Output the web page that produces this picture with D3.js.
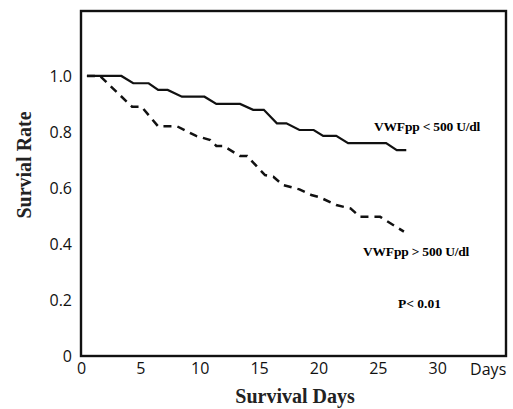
<!DOCTYPE html>
<html>
<head>
<meta charset="utf-8">
<script src="https://cdn.jsdelivr.net/npm/d3@7"></script>
<style>
  body { margin: 0; background: #fff; }
  svg { display: block; }
</style>
</head>
<body>
<div class="container"></div>
<script>
const width = 513
const height = 409

// survival curves (day, rate)
const lowDays = [0.5, 3.4, 4.4, 5.7, 6.5, 7.3, 8.5, 10.4, 11.4, 13.4, 14.5, 15.4, 16.5, 17.3, 18.4, 19.6, 20.4, 21.5, 22.5, 25.7, 26.6, 27.4]
const lowRate = [1.0, 1.0, 0.974, 0.974, 0.95, 0.95, 0.926, 0.926, 0.9, 0.9, 0.879, 0.879, 0.831, 0.831, 0.807, 0.807, 0.786, 0.786, 0.76, 0.76, 0.735, 0.735]

const highDays = [0.5, 1.6, 4.3, 5.1, 6.5, 8.1, 9.7, 10.9, 11.4, 12.0, 13.4, 14.0, 15.5, 16.2, 17.0, 18.4, 19.4, 20.1, 21.5, 22.7, 23.5, 25.2, 27.2]
const highRate = [1.0, 1.0, 0.89, 0.89, 0.82, 0.82, 0.786, 0.771, 0.75, 0.75, 0.714, 0.714, 0.646, 0.64, 0.611, 0.595, 0.575, 0.567, 0.539, 0.527, 0.497, 0.497, 0.444]

const xTicks = [0, 5, 10, 15, 20, 25, 30]
const yTicks = [0, 0.2, 0.4, 0.6, 0.8, 1.0]

const plotLeft = 81, plotRight = 506, plotTop = 11, plotBottom = 356

var svg = d3.select('.container')
    .append('svg')
    .attr('width', width)
    .attr('height', height)

var scaleX = d3.scaleLinear()
    .domain([0, 35.8])
    .range([plotLeft, plotRight])

var scaleY = d3.scaleLinear()
    .domain([0, 1.232])
    .range([plotBottom, plotTop])

var x_axis = d3.axisBottom(scaleX)
    .tickValues(xTicks)
    .tickSize(0)
    .tickPadding(7)
    .tickFormat(d3.format('d'))

var y_axis = d3.axisLeft(scaleY)
    .tickValues(yTicks)
    .tickSize(0)
    .tickPadding(9)
    .tickFormat(d => d === 0 ? '0' : d3.format('.1f')(d))

const sans = '"Open Sans", sans-serif'

svg.append('g')
    .attr('transform', `translate(0, ${plotBottom})`)
    .call(x_axis)
    .call(g => g.select('.domain').remove())
    .selectAll('text')
    .style('font-family', sans)
    .style('font-size', '16px')
    .style('fill', '#111')

svg.append('g')
    .attr('transform', `translate(${plotLeft}, 0)`)
    .call(y_axis)
    .call(g => g.select('.domain').remove())
    .selectAll('text')
    .style('font-family', sans)
    .style('font-size', '16px')
    .style('fill', '#111')

// "Days" sits where a 35 tick would be
svg.append('text')
    .attr('x', scaleX(34.3))
    .attr('y', plotBottom + 19)
    .attr('text-anchor', 'middle')
    .style('font-family', sans)
    .style('font-size', '16px')
    .style('fill', '#111')
    .text('Days')

// frame
svg.append('rect')
    .attr('x', plotLeft)
    .attr('y', plotTop)
    .attr('width', plotRight - plotLeft)
    .attr('height', plotBottom - plotTop)
    .attr('fill', 'none')
    .attr('stroke', '#111')
    .attr('stroke-width', 2.4)

var line = d3.line()
    .x(d => scaleX(d[0]))
    .y(d => scaleY(d[1]))

svg.append('path')
    .datum(d3.zip(lowDays, lowRate))
    .attr('d', line)
    .attr('fill', 'none')
    .attr('stroke', '#111')
    .attr('stroke-width', 2.2)

svg.append('path')
    .datum(d3.zip(highDays, highRate))
    .attr('d', line)
    .attr('fill', 'none')
    .attr('stroke', '#111')
    .attr('stroke-width', 2.5)
    .attr('stroke-dasharray', '8,6')

const serif = '"Liberation Serif", "Times New Roman", serif'

svg.append('text')
    .attr('x', 374)
    .attr('y', 131)
    .style('font-family', serif)
    .style('font-weight', 'bold')
    .style('font-size', '13.5px')
    .style('letter-spacing', '-0.2px')
    .text('VWFpp < 500 U/dl')

svg.append('text')
    .attr('x', 363)
    .attr('y', 256)
    .style('font-family', serif)
    .style('font-weight', 'bold')
    .style('font-size', '13.5px')
    .style('letter-spacing', '-0.2px')
    .text('VWFpp > 500 U/dl')

svg.append('text')
    .attr('x', 398)
    .attr('y', 308)
    .style('font-family', serif)
    .style('font-weight', 'bold')
    .style('font-size', '13.5px')
    .text('P< 0.01')

svg.append('text')
    .attr('x', 295)
    .attr('y', 403)
    .attr('text-anchor', 'middle')
    .style('font-family', serif)
    .style('font-weight', 'bold')
    .style('font-size', '20px')
    .style('fill', '#222')
    .text('Survival Days')

svg.append('text')
    .attr('transform', 'translate(31, 165) rotate(-90)')
    .attr('text-anchor', 'middle')
    .style('font-family', serif)
    .style('font-weight', 'bold')
    .style('font-size', '20px')
    .style('fill', '#222')
    .text('Survial Rate')
</script>
</body>
</html>
